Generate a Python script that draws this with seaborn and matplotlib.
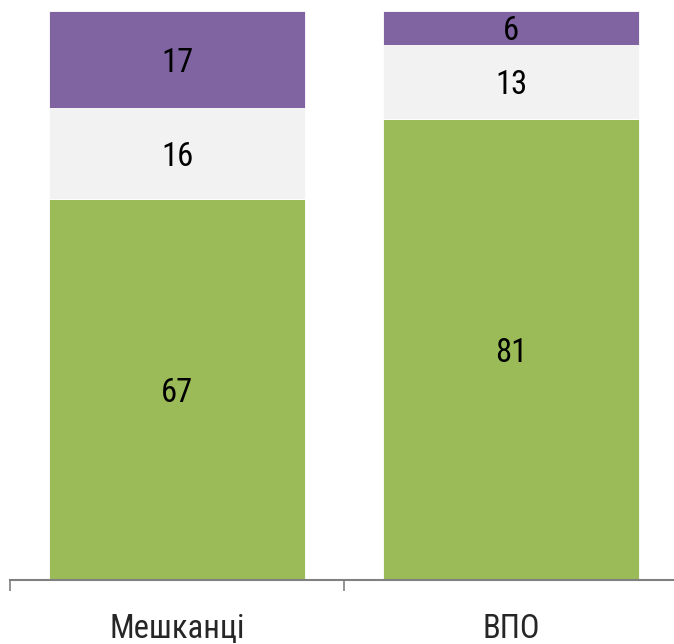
import matplotlib
matplotlib.use("Agg")
import matplotlib.pyplot as plt
from matplotlib import font_manager
import seaborn as sns
import numpy as np

categories = ["Мешканці", "ВПО"]
green_vals = [67, 81]
grey_vals = [16, 13]
purple_vals = [17, 6]

sns.set_theme(style="white")
names = {f.name for f in font_manager.fontManager.ttflist}
fam = "Liberation Sans"
for cand in ["Liberation Sans Narrow", "Roboto Condensed", "Open Sans Condensed", "Arial Narrow"]:
    if cand in names:
        fam = cand
        break
plt.rcParams["font.family"] = [fam, "DejaVu Sans"]

fig = plt.figure(figsize=(6.74, 6.44), dpi=100)
fig.patch.set_facecolor("white")
ax = fig.add_axes([10/674, 64/644, 668/674, 580/644])
ax.set_facecolor("none")

w = 0.765
bottom0 = np.zeros(2)
layers = [(green_vals, "#9BBB59"), (grey_vals, "#F2F2F2"), (purple_vals, "#8064A2")]
for vals, col in layers:
    sns.barplot(x=categories, y=vals, bottom=bottom0, color=col, width=w,
                edgecolor="white", linewidth=0.6, ax=ax, saturation=1)
    for i, v in enumerate(vals):
        ax.text(i, bottom0[i] + v / 2, str(v), ha="center", va="center_baseline",
                fontsize=23.5, color="black")
    bottom0 = bottom0 + np.array(vals)

ax.set_xlim(-0.5, 1.5)
ax.set_ylim(0, 101.9)
ax.set_yticks([])
ax.set_xticks([0, 1])
ax.set_xticklabels(categories, fontsize=23.5)
ax.set_xticks([-0.5, 0.5, 1.5], minor=True)
ax.tick_params(axis="x", which="major", length=0, pad=23.5)
ax.tick_params(axis="x", which="minor", bottom=True, length=8, width=1.2,
               color="#808080", direction="out")
for s in ["top", "right", "left"]:
    ax.spines[s].set_visible(False)
ax.spines["bottom"].set_color("#808080")
ax.spines["bottom"].set_linewidth(1.5)
ax.set_xlabel("")
ax.set_ylabel("")
fig.savefig("out.png", dpi=100)
